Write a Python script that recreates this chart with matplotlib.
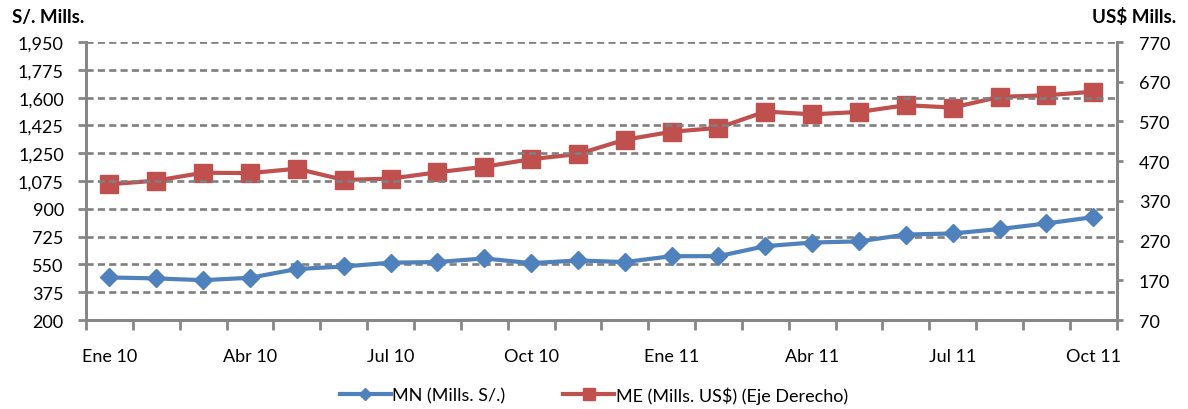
import matplotlib
matplotlib.use('Agg')
import matplotlib.pyplot as plt
from matplotlib.ticker import FixedLocator

plt.rcParams['font.family'] = ['Lato', 'DejaVu Sans']

months = ['Ene 10', 'Feb 10', 'Mar 10', 'Abr 10', 'May 10', 'Jun 10', 'Jul 10', 'Ago 10',
          'Set 10', 'Oct 10', 'Nov 10', 'Dic 10', 'Ene 11', 'Feb 11', 'Mar 11', 'Abr 11',
          'May 11', 'Jun 11', 'Jul 11', 'Ago 11', 'Set 11', 'Oct 11']
mn = [468, 462, 451, 466, 521, 537, 561, 565, 588, 558, 575, 565,
      602, 602, 665, 688, 695, 738, 745, 773, 808, 848]
me = [412, 421, 441, 440, 451, 423, 426, 442, 456, 475, 488, 524,
      544, 554, 595, 588, 594, 611, 605, 632, 636, 645]
left_ticks = [200, 375, 550, 725, 900, 1075, 1250, 1425, 1600, 1775, 1950]
right_ticks = [70, 170, 270, 370, 470, 570, 670, 770]

blue = '#4F81BD'
red = '#C0504D'
grey = '#868686'

fig = plt.figure(figsize=(11.88, 4.10), dpi=100)
ax = fig.add_axes([0.0724, 0.217, 0.8676, 0.678])
ax2 = ax.twinx()

x = list(range(len(months)))
l1, = ax.plot(x, mn, color=blue, lw=3, marker='D', ms=9.5, label='MN (Mills. S/.)')
l2, = ax2.plot(x, me, color=red, lw=3, marker='s', ms=13.5, label='ME (Mills. US$) (Eje Derecho)')

ax.set_xlim(-0.5, len(months) - 0.5)
ax.set_ylim(200, 1950)
ax.set_yticks(left_ticks)
ax.set_yticklabels([f'{v:,}' for v in left_ticks])
ax2.set_ylim(70, 770)
ax2.set_yticks(right_ticks)

# labels every 3 months, tick marks on month boundaries
ax.set_xticks(x[::3])
ax.set_xticklabels(months[::3])
ax.xaxis.set_minor_locator(FixedLocator([i - 0.5 for i in range(len(months) + 1)]))
ax.tick_params(axis='x', which='major', length=0, pad=20, labelsize=13)
ax.tick_params(axis='x', which='minor', length=7, width=2, color=grey, direction='out')
ax.tick_params(axis='y', length=6, width=2, color=grey, pad=10, labelsize=13)
ax2.tick_params(axis='y', length=4, width=2, color=grey, pad=12, labelsize=13)

ax.grid(axis='y', color='#7f7f7f', ls=(0, (2.7, 1.6)), lw=1.9)
ax.set_axisbelow(True)
for a in (ax, ax2):
    a.spines['top'].set_visible(False)
    for s in ('left', 'right', 'bottom'):
        a.spines[s].set_color(grey)
        a.spines[s].set_linewidth(2)
ax.set_zorder(ax2.get_zorder() + 1)
ax.patch.set_visible(False)

fig.text(0.010, 0.958, 'S/. Mills.', fontsize=13.5, fontweight='bold', ha='left', va='center')
fig.text(0.990, 0.958, 'US$ Mills.', fontsize=13.5, fontweight='bold', ha='right', va='center')

fig.legend(handles=[l1, l2], loc='center', bbox_to_anchor=(0.5, 0.034), ncol=2,
           frameon=False, fontsize=13, handlelength=2.8, columnspacing=3.2,
           handletextpad=0.1, markerscale=0.65)

fig.savefig('out.png', dpi=100)
